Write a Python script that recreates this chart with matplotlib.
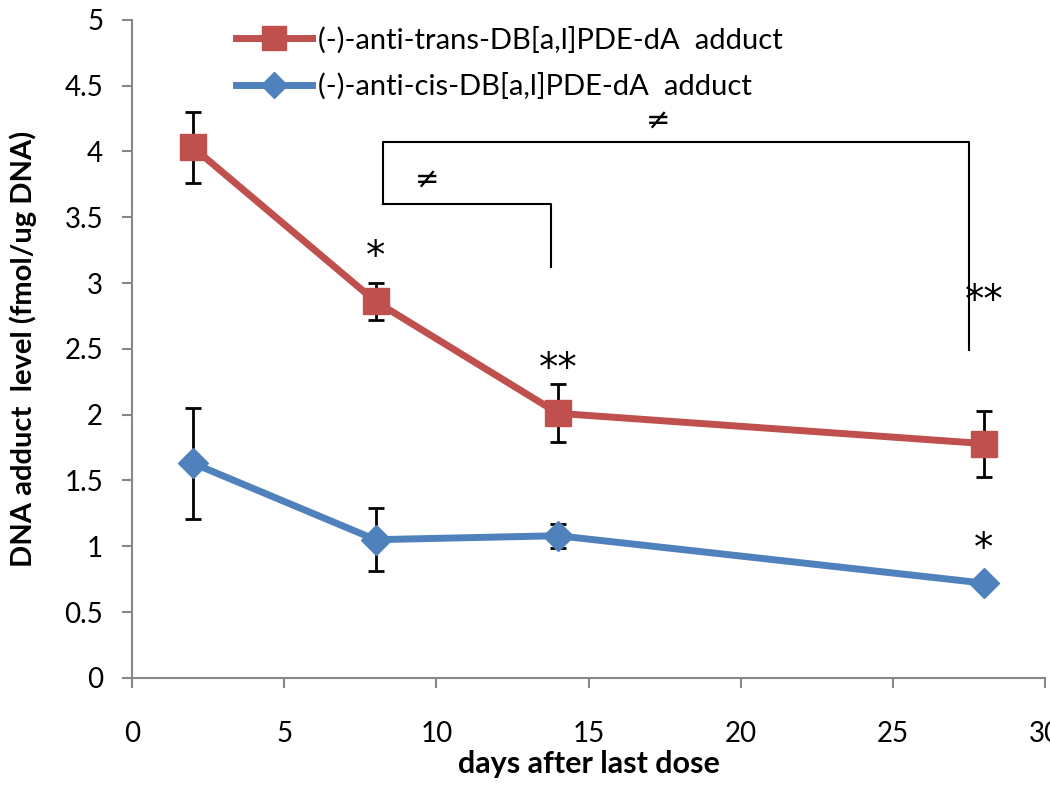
import numpy as np
import matplotlib
matplotlib.use('Agg')
import matplotlib.pyplot as plt

plt.rcParams['font.family'] = ['Lato', 'DejaVu Sans']

# data
days = [2, 8, 14, 28]
trans_mean = [4.03, 2.86, 2.01, 1.78]
trans_err = [0.27, 0.14, 0.22, 0.25]
cis_mean = [1.63, 1.05, 1.08, 0.72]
cis_err = [0.42, 0.24, 0.09, 0.0]
trans_label = '(-)-anti-trans-DB[a,l]PDE-dA  adduct'
cis_label = '(-)-anti-cis-DB[a,l]PDE-dA  adduct'

red = '#C0504D'
blue = '#4F81BD'

fig = plt.figure(figsize=(10.5, 7.91), dpi=100)
ax = fig.add_axes([0.126, 0.143, 0.869, 0.832])

# error bars behind markers
ax.errorbar(days, trans_mean, yerr=trans_err, fmt='none', ecolor='black',
            elinewidth=2, capsize=6, capthick=2, zorder=1)
ax.errorbar(days, cis_mean, yerr=cis_err, fmt='none', ecolor='black',
            elinewidth=2, capsize=6, capthick=2, zorder=1)
ax.plot(days, trans_mean, '-s', color=red, lw=5, ms=19, label=trans_label, zorder=3)
ax.plot(days, cis_mean, '-D', color=blue, lw=5, ms=15, label=cis_label, zorder=3)

# significance marks
star_kw = dict(ha='center', va='center', fontsize=28, family='DejaVu Sans')
ax.text(8, 3.2, '*', **star_kw)
ax.text(14, 2.35, '**', **star_kw)
ax.text(28, 2.86, '**', **star_kw)
ax.text(28, 0.98, '*', **star_kw)

# brackets
ax.plot([8.25, 8.25, 27.5, 27.5], [3.6, 4.07, 4.07, 2.49], color='black', lw=1.5)
ax.plot([8.25, 13.75, 13.75], [3.6, 3.6, 3.12], color='black', lw=1.5)
ax.text(9.7, 3.78, '≠', ha='center', va='center', fontsize=21, family='DejaVu Sans')
ax.text(17.3, 4.23, '≠', ha='center', va='center', fontsize=21, family='DejaVu Sans')

ax.set_xlim(0, 30)
ax.set_ylim(0, 5)
ax.set_xticks(np.arange(0, 31, 5))
ax.set_yticks(np.arange(0, 5.01, 0.5))
ax.set_yticklabels(['0', '0.5', '1', '1.5', '2', '2.5', '3', '3.5', '4', '4.5', '5'])
ax.tick_params(labelsize=20, color='#878787', length=7, width=1.5, direction='out')
ax.tick_params(axis='x', pad=24)
ax.tick_params(axis='y', pad=14)
for s in ['top', 'right']:
    ax.spines[s].set_visible(False)
for s in ['left', 'bottom']:
    ax.spines[s].set_color('#878787')
    ax.spines[s].set_linewidth(1.5)

ax.set_xlabel('days after last dose', fontsize=22, fontweight='bold', labelpad=2)
ax.set_ylabel('DNA adduct  level (fmol/ug DNA)', fontsize=21, fontweight='bold', labelpad=20)

ax.legend(loc='upper left', bbox_to_anchor=(0.2, 1.0), bbox_transform=fig.transFigure,
          frameon=False, fontsize=21, handlelength=2.6, handletextpad=0.2,
          labelspacing=0.65, markerscale=0.9)

fig.savefig('out.png', dpi=100)
